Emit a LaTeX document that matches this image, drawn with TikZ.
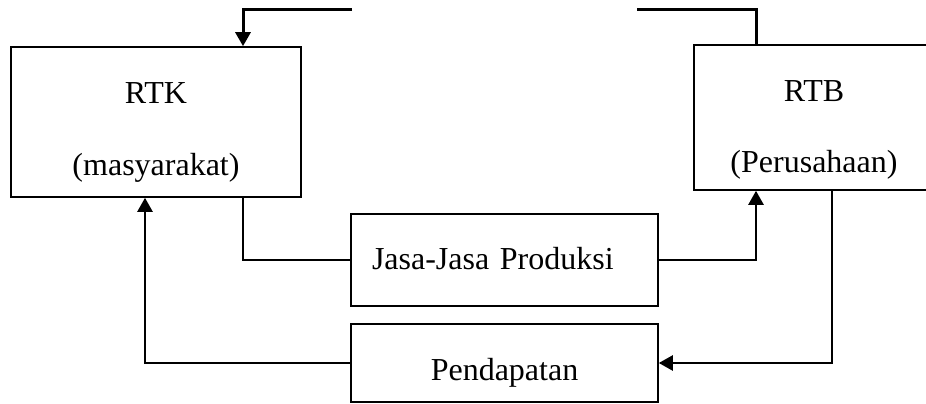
\documentclass[tikz,border=0pt]{standalone}
\usepackage{fontspec}
\setmainfont{Liberation Serif}
\usepackage{tikz}
\usetikzlibrary{arrows.meta,positioning}

\begin{document}
\begin{tikzpicture}[x=1pt,y=-1pt,>={Triangle[length=14pt,width=15pt]},
 font=\fontsize{32}{38}\selectfont,
 unit/.style={draw,line width=1.6pt,inner sep=0pt},
 flow/.style={line width=2.4pt},
 txt/.style={anchor=base,inner sep=0pt}]
 \useasboundingbox (0,0) rectangle (926,404);
 % households and firms
 \node[unit,minimum width=290pt,minimum height=150pt] (rtk) at (156,122) {};
 \node[txt] (rtkname) at (156,103) {RTK};
 \node[txt] (rtkdesc) at (156,175) {(masyarakat)};
 \node[unit,minimum width=240pt,minimum height=145pt] (rtb) at (814,117.5) {};
 \node[txt] (rtbname) at (814,101) {RTB};
 \node[txt] (rtbdesc) at (814,172) {(Perusahaan)};
 % flows in the middle
 \node[unit,inner xsep=21pt,text width=265pt,align=left,minimum height=92pt,text height=22pt,text depth=4pt] (jasa) at (504.5,260) {Jasa-Jasa Produksi};
 \node[unit,minimum width=307pt,minimum height=78pt,text height=34pt,text depth=0pt] (pend) at (504.5,363) {Pendapatan};
 \coordinate (topl) at (352,10);
 \coordinate (topr) at (637,10);
 \draw[flow,line width=3pt,->] (topl) -| ([xshift=87pt]rtk.north);
 \draw[flow,line width=3pt] ([xshift=-58pt]rtb.north) |- (topr);
 \draw[unit] ([xshift=87pt]rtk.south) |- (jasa.west);
 \draw[flow,->] (jasa.east) -| ([xshift=-58pt]rtb.south);
 \draw[flow,->] ([xshift=18pt]rtb.south) |- (pend.east);
 \draw[flow,->] (pend.west) -| ([xshift=-11pt]rtk.south);
\end{tikzpicture}
\end{document}
